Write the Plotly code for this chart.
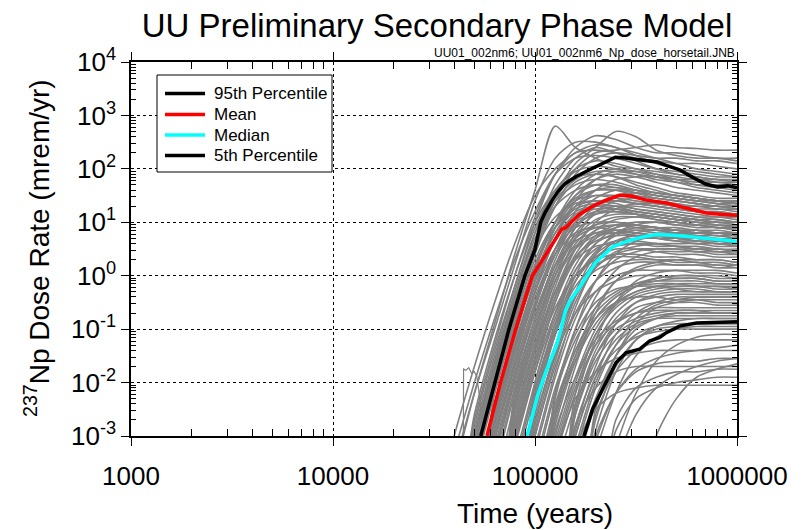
import plotly.graph_objects as go

# ---------------- data ----------------
# common time grid (years) for the individual realizations (gray horsetail)
real_time = [31600, 39800, 50100, 63100, 79400, 100000, 125900, 158500, 199500,
             251200, 316200, 398100, 501200, 631000, 794300, 1000000]

# log10 of dose rate (mrem/yr) for realizations
gray_top = [
    [-4.5, -3.6, -2.2, -0.9, 0.4, 1.6, 2.8, 2.4, 2.2, 2.05, 2.0, 1.95, 1.9, 1.85, 1.8, 1.75],
    [-4.5, -4.5, -3.3, -1.9, -0.6, 0.6, 1.5, 2.1, 2.4, 2.7, 2.6, 2.35, 2.25, 2.2, 2.2, 2.15],
    [-4.5, -4.5, -2.9, -1.5, -0.2, 1.0, 1.9, 2.4, 2.62, 2.55, 2.4, 2.3, 2.3, 2.25, 2.2, 2.2],
    [-4.5, -4.5, -3.4, -2.0, -0.7, 0.5, 1.4, 2.0, 2.3, 2.35, 2.4, 2.45, 2.4, 2.38, 2.35, 2.35],
    [-4.5, -3.5, -2.2, -1.0, 0.2, 1.4, 2.2, 2.5, 2.5, 2.4, 2.3, 2.2, 2.1, 2.0, 1.95, 1.9],
    [-4.5, -3.0, -1.7, -0.5, 0.6, 1.5, 2.0, 2.3, 2.45, 2.4, 2.25, 2.1, 2.0, 1.95, 1.9, 1.85],
    [-4.5, -4.5, -2.7, -1.3, 0.0, 1.1, 1.9, 2.3, 2.35, 2.3, 2.2, 2.15, 2.1, 2.1, 2.05, 2.0],
    [-4.5, -4.5, -3.1, -1.7, -0.4, 0.8, 1.7, 2.2, 2.4, 2.3, 2.15, 2.0, 1.9, 1.85, 1.8, 1.8],
    [-4.5, -3.3, -2.0, -0.8, 0.3, 1.2, 1.9, 2.2, 2.25, 2.2, 2.1, 2.0, 1.95, 1.9, 1.85, 1.85],
    [-4.5, -4.5, -3.5, -2.1, -0.8, 0.4, 1.3, 1.9, 2.2, 2.3, 2.25, 2.2, 2.2, 2.15, 2.15, 2.1],
]
gray_upper = [
    [-4.5, -4.5, -3.0, -1.6, -0.3, 0.8, 1.6, 2.0, 2.15, 2.1, 2.0, 1.9, 1.8, 1.7, 1.65, 1.6],
    [-4.5, -4.5, -2.8, -1.4, -0.2, 0.9, 1.6, 1.95, 2.05, 2.0, 1.9, 1.8, 1.75, 1.7, 1.7, 1.7],
    [-4.5, -4.5, -4.5, -2.6, -1.2, 0.1, 1.0, 1.6, 1.9, 2.0, 1.95, 1.85, 1.75, 1.65, 1.6, 1.55],
    [-4.5, -4.5, -3.2, -1.8, -0.5, 0.6, 1.4, 1.8, 1.95, 1.95, 1.9, 1.85, 1.8, 1.8, 1.75, 1.75],
    [-4.5, -4.5, -4.5, -3.0, -1.6, -0.3, 0.7, 1.4, 1.8, 1.95, 1.95, 1.9, 1.85, 1.8, 1.8, 1.8],
    [-4.5, -4.5, -2.6, -1.2, 0.0, 1.0, 1.6, 1.85, 1.9, 1.85, 1.75, 1.65, 1.55, 1.5, 1.45, 1.45],
    [-4.5, -4.5, -4.5, -2.8, -1.4, -0.1, 0.9, 1.5, 1.8, 1.9, 1.85, 1.75, 1.65, 1.6, 1.55, 1.5],
    [-4.5, -4.5, -3.4, -2.0, -0.7, 0.5, 1.3, 1.75, 1.9, 1.85, 1.7, 1.6, 1.5, 1.45, 1.4, 1.4],
    [-4.5, -4.5, -4.5, -3.3, -1.9, -0.6, 0.5, 1.2, 1.6, 1.8, 1.85, 1.85, 1.8, 1.75, 1.75, 1.7],
    [-4.5, -4.5, -3.0, -1.6, -0.4, 0.7, 1.4, 1.7, 1.8, 1.75, 1.65, 1.55, 1.5, 1.45, 1.4, 1.35],
]
gray_mid_high = [
    [-4.5, -4.5, -4.5, -2.5, -1.1, 0.1, 1.0, 1.5, 1.7, 1.7, 1.6, 1.5, 1.45, 1.4, 1.35, 1.3],
    [-4.5, -4.5, -4.5, -2.9, -1.5, -0.3, 0.7, 1.3, 1.6, 1.65, 1.6, 1.55, 1.5, 1.45, 1.4, 1.4],
    [-4.5, -4.5, -4.5, -3.3, -1.9, -0.6, 0.4, 1.1, 1.45, 1.6, 1.6, 1.55, 1.5, 1.45, 1.4, 1.35],
    [-4.5, -4.5, -3.5, -2.1, -0.8, 0.3, 1.0, 1.4, 1.5, 1.45, 1.35, 1.3, 1.25, 1.2, 1.2, 1.15],
    [-4.5, -4.5, -4.5, -2.7, -1.3, -0.1, 0.8, 1.3, 1.5, 1.5, 1.45, 1.4, 1.35, 1.3, 1.3, 1.25],
    [-4.5, -4.5, -4.5, -4.5, -2.4, -1.0, 0.1, 0.9, 1.3, 1.5, 1.55, 1.5, 1.45, 1.4, 1.4, 1.35],
    [-4.5, -4.5, -4.5, -3.1, -1.7, -0.5, 0.5, 1.1, 1.35, 1.4, 1.35, 1.3, 1.25, 1.2, 1.15, 1.1],
    [-4.5, -4.5, -4.5, -4.5, -2.8, -1.4, -0.2, 0.7, 1.2, 1.4, 1.45, 1.45, 1.4, 1.35, 1.3, 1.3],
    [-4.5, -4.5, -4.5, -2.4, -1.0, 0.2, 0.9, 1.25, 1.35, 1.3, 1.2, 1.15, 1.1, 1.05, 1.0, 1.0],
    [-4.5, -4.5, -4.5, -3.5, -2.1, -0.8, 0.3, 1.0, 1.35, 1.45, 1.4, 1.35, 1.3, 1.25, 1.25, 1.2],
    [-4.5, -4.5, -4.5, -4.5, -2.2, -0.9, 0.2, 0.9, 1.2, 1.3, 1.3, 1.25, 1.2, 1.15, 1.1, 1.1],
    [-4.5, -4.5, -4.5, -2.8, -1.4, -0.2, 0.7, 1.1, 1.25, 1.25, 1.2, 1.15, 1.1, 1.05, 1.05, 1.0],
    [-4.5, -4.5, -4.5, -4.5, -3.0, -1.6, -0.4, 0.5, 1.0, 1.25, 1.35, 1.35, 1.3, 1.3, 1.25, 1.25],
    [-4.5, -4.5, -4.5, -3.2, -1.8, -0.6, 0.4, 0.95, 1.15, 1.2, 1.15, 1.1, 1.05, 1.0, 0.95, 0.95],
    [-4.5, -4.5, -4.5, -4.5, -2.5, -1.1, 0.0, 0.8, 1.15, 1.25, 1.2, 1.15, 1.1, 1.05, 1.0, 1.0],
    [-4.5, -4.5, -3.2, -1.8, -0.5, 0.6, 1.3, 1.6, 1.7, 1.65, 1.55, 1.45, 1.4, 1.35, 1.3, 1.3],
    [-4.5, -4.5, -3.6, -2.2, -0.9, 0.2, 1.0, 1.45, 1.6, 1.6, 1.5, 1.45, 1.4, 1.35, 1.3, 1.25],
    [-4.5, -4.5, -4.5, -2.2, -0.9, 0.2, 0.9, 1.3, 1.4, 1.4, 1.35, 1.3, 1.25, 1.2, 1.2, 1.15],
    [-4.5, -4.5, -3.9, -2.4, -1.1, 0.0, 0.9, 1.4, 1.6, 1.6, 1.55, 1.5, 1.45, 1.4, 1.35, 1.35],
    [-4.5, -4.5, -3.0, -1.7, -0.5, 0.5, 1.1, 1.35, 1.4, 1.35, 1.25, 1.2, 1.15, 1.1, 1.05, 1.0],
    [-4.5, -4.5, -4.5, -2.4, -1.1, 0.0, 0.8, 1.2, 1.3, 1.25, 1.15, 1.05, 1.0, 0.95, 0.9, 0.9],
    [-4.5, -4.5, -4.5, -2.7, -1.4, -0.3, 0.5, 0.9, 1.0, 1.0, 0.95, 0.9, 0.85, 0.8, 0.8, 0.75],
]
gray_mid = [
    [-4.5, -4.5, -4.5, -4.5, -2.7, -1.3, -0.1, 0.6, 0.95, 1.1, 1.1, 1.05, 1.0, 0.95, 0.9, 0.9],
    [-4.5, -4.5, -4.5, -4.5, -3.2, -1.8, -0.5, 0.4, 0.85, 1.05, 1.1, 1.1, 1.05, 1.0, 1.0, 0.95],
    [-4.5, -4.5, -4.5, -3.4, -2.0, -0.8, 0.2, 0.75, 0.95, 1.0, 0.95, 0.9, 0.85, 0.8, 0.8, 0.75],
    [-4.5, -4.5, -4.5, -4.5, -4.5, -2.4, -1.0, 0.0, 0.6, 0.9, 1.0, 1.0, 0.95, 0.95, 0.9, 0.9],
    [-4.5, -4.5, -4.5, -4.5, -2.3, -1.0, 0.1, 0.7, 0.9, 0.95, 0.9, 0.85, 0.8, 0.75, 0.75, 0.7],
    [-4.5, -4.5, -4.5, -4.5, -2.9, -1.5, -0.3, 0.5, 0.85, 0.95, 0.95, 0.9, 0.9, 0.85, 0.85, 0.8],
    [-4.5, -4.5, -4.5, -4.5, -4.5, -2.8, -1.4, -0.3, 0.4, 0.8, 0.95, 1.0, 1.0, 0.95, 0.95, 0.9],
    [-4.5, -4.5, -4.5, -3.0, -1.6, -0.4, 0.4, 0.8, 0.9, 0.85, 0.8, 0.75, 0.7, 0.7, 0.65, 0.65],
    [-4.5, -4.5, -4.5, -4.5, -3.4, -2.0, -0.7, 0.2, 0.7, 0.9, 0.95, 0.9, 0.85, 0.85, 0.8, 0.8],
    [-4.5, -4.5, -4.5, -4.5, -2.5, -1.2, -0.1, 0.5, 0.75, 0.8, 0.8, 0.75, 0.7, 0.7, 0.65, 0.6],
    [-4.5, -4.5, -4.5, -4.5, -4.5, -3.2, -1.8, -0.6, 0.2, 0.6, 0.8, 0.85, 0.85, 0.85, 0.8, 0.8],
    [-4.5, -4.5, -4.5, -4.5, -3.0, -1.6, -0.4, 0.35, 0.7, 0.85, 0.85, 0.8, 0.8, 0.75, 0.7, 0.7],
    [-4.5, -4.5, -4.5, -4.5, -4.5, -2.5, -1.1, -0.1, 0.45, 0.75, 0.85, 0.85, 0.8, 0.8, 0.75, 0.75],
    [-4.5, -4.5, -4.5, -3.6, -2.2, -1.0, 0.0, 0.55, 0.8, 0.85, 0.8, 0.75, 0.7, 0.65, 0.6, 0.6],
    [-4.5, -4.5, -4.5, -4.5, -4.5, -4.5, -2.3, -1.0, -0.1, 0.4, 0.65, 0.75, 0.8, 0.8, 0.8, 0.75],
    [-4.5, -4.5, -4.5, -4.5, -2.8, -1.4, -0.3, 0.35, 0.65, 0.75, 0.75, 0.7, 0.65, 0.65, 0.6, 0.6],
    [-4.5, -4.5, -4.5, -4.5, -4.5, -2.9, -1.5, -0.4, 0.3, 0.65, 0.75, 0.75, 0.7, 0.7, 0.65, 0.65],
    [-4.5, -4.5, -4.5, -4.5, -3.6, -2.2, -0.9, 0.1, 0.6, 0.8, 0.9, 0.9, 0.85, 0.8, 0.8, 0.75],
    [-4.5, -4.5, -4.5, -2.6, -1.3, -0.1, 0.7, 1.15, 1.3, 1.3, 1.25, 1.2, 1.15, 1.1, 1.1, 1.05],
    [-4.5, -4.5, -4.5, -3.0, -1.7, -0.5, 0.5, 1.0, 1.2, 1.2, 1.15, 1.1, 1.05, 1.0, 0.95, 0.9],
    [-4.5, -4.5, -4.5, -3.8, -2.4, -1.1, 0.0, 0.7, 1.05, 1.15, 1.15, 1.1, 1.05, 1.05, 1.0, 1.0],
    [-4.5, -4.5, -4.5, -4.5, -3.1, -1.7, -0.5, 0.3, 0.75, 0.95, 1.0, 1.0, 0.95, 0.9, 0.9, 0.85],
    [-4.5, -4.5, -4.5, -3.3, -1.9, -0.7, 0.2, 0.65, 0.8, 0.8, 0.75, 0.7, 0.65, 0.6, 0.6, 0.55],
]
gray_mid_low = [
    [-4.5, -4.5, -4.5, -4.5, -4.5, -2.6, -1.3, -0.4, 0.15, 0.4, 0.5, 0.5, 0.5, 0.45, 0.45, 0.4],
    [-4.5, -4.5, -4.5, -4.5, -4.5, -3.3, -1.9, -0.8, -0.1, 0.3, 0.45, 0.5, 0.5, 0.5, 0.45, 0.45],
    [-4.5, -4.5, -4.5, -4.5, -3.1, -1.8, -0.7, 0.0, 0.35, 0.5, 0.5, 0.45, 0.4, 0.4, 0.35, 0.35],
    [-4.5, -4.5, -4.5, -4.5, -4.5, -4.5, -2.6, -1.3, -0.4, 0.1, 0.35, 0.45, 0.45, 0.45, 0.4, 0.4],
    [-4.5, -4.5, -4.5, -4.5, -4.5, -2.2, -1.0, -0.2, 0.2, 0.35, 0.35, 0.3, 0.3, 0.25, 0.25, 0.2],
    [-4.5, -4.5, -4.5, -4.5, -4.5, -3.0, -1.7, -0.7, -0.1, 0.15, 0.25, 0.25, 0.2, 0.2, 0.15, 0.15],
    [-4.5, -4.5, -4.5, -4.5, -4.5, -4.5, -3.0, -1.7, -0.7, -0.1, 0.15, 0.25, 0.3, 0.3, 0.3, 0.25],
    [-4.5, -4.5, -4.5, -4.5, -4.5, -4.5, -2.2, -1.0, -0.3, 0.0, 0.1, 0.1, 0.1, 0.05, 0.05, 0.0],
    [-4.5, -4.5, -4.5, -4.5, -4.5, -2.7, -1.5, -0.7, -0.3, -0.1, 0.0, 0.0, -0.05, -0.05, -0.1, -0.1],
    [-4.5, -4.5, -4.5, -4.5, -4.5, -4.5, -4.5, -2.4, -1.2, -0.5, -0.1, 0.05, 0.1, 0.1, 0.1, 0.05],
    [-4.5, -4.5, -4.5, -4.5, -4.5, -4.5, -2.8, -1.6, -0.8, -0.4, -0.2, -0.15, -0.15, -0.2, -0.2, -0.25],
    [-4.5, -4.5, -4.5, -4.5, -4.5, -3.5, -2.1, -1.1, -0.5, -0.25, -0.2, -0.2, -0.25, -0.3, -0.3, -0.3],
    [-4.5, -4.5, -4.5, -4.5, -4.5, -4.5, -4.5, -2.9, -1.7, -0.9, -0.5, -0.35, -0.3, -0.3, -0.3, -0.3],
    [-4.5, -4.5, -4.5, -4.5, -4.5, -4.5, -2.5, -1.4, -0.8, -0.5, -0.4, -0.4, -0.45, -0.45, -0.5, -0.5],
    [-4.5, -4.5, -4.5, -4.5, -4.5, -4.5, -4.5, -2.6, -1.5, -0.9, -0.6, -0.5, -0.5, -0.5, -0.55, -0.55],
    [-4.5, -4.5, -4.5, -4.5, -4.5, -4.5, -3.3, -2.1, -1.3, -0.9, -0.7, -0.65, -0.65, -0.65, -0.7, -0.7],
    [-4.5, -4.5, -4.5, -4.5, -4.5, -4.5, -4.5, -4.5, -2.5, -1.5, -1.0, -0.8, -0.7, -0.7, -0.7, -0.7],
    [-4.5, -4.5, -4.5, -4.5, -4.5, -4.5, -4.5, -3.2, -2.0, -1.3, -0.95, -0.8, -0.75, -0.75, -0.75, -0.75],
    [-4.5, -4.5, -4.5, -4.5, -4.5, -3.8, -2.4, -1.4, -0.7, -0.35, -0.15, -0.05, 0.0, 0.0, 0.0, -0.05],
    [-4.5, -4.5, -4.5, -4.5, -4.5, -4.5, -4.5, -2.2, -1.1, -0.55, -0.3, -0.2, -0.15, -0.15, -0.15, -0.15],
    [-4.5, -4.5, -4.5, -4.5, -2.6, -1.3, -0.3, 0.3, 0.55, 0.6, 0.6, 0.55, 0.55, 0.5, 0.5, 0.45],
    [-4.5, -4.5, -4.5, -4.5, -3.8, -2.4, -1.1, -0.1, 0.4, 0.65, 0.7, 0.7, 0.7, 0.65, 0.65, 0.6],
    [-4.5, -4.5, -4.5, -4.5, -4.5, -3.0, -1.6, -0.5, 0.15, 0.45, 0.55, 0.6, 0.6, 0.6, 0.55, 0.55],
    [-4.5, -4.5, -4.5, -4.5, -2.9, -1.6, -0.6, 0.0, 0.3, 0.4, 0.4, 0.35, 0.35, 0.3, 0.3, 0.25],
    [-4.5, -4.5, -4.5, -4.5, -4.5, -2.3, -1.1, -0.3, 0.1, 0.25, 0.3, 0.3, 0.25, 0.25, 0.2, 0.2],
    [-4.5, -4.5, -4.5, -4.5, -4.5, -4.5, -2.7, -1.5, -0.6, -0.1, 0.1, 0.2, 0.2, 0.2, 0.2, 0.15],
    [-4.5, -4.5, -4.5, -4.5, -4.5, -3.6, -2.2, -1.2, -0.6, -0.3, -0.15, -0.1, -0.1, -0.1, -0.15, -0.15],
    [-4.5, -4.5, -4.5, -4.5, -4.5, -4.5, -3.2, -2.0, -1.1, -0.6, -0.35, -0.25, -0.2, -0.2, -0.2, -0.2],
    [-4.5, -4.5, -4.5, -4.5, -4.5, -4.5, -4.5, -3.0, -1.9, -1.1, -0.7, -0.5, -0.4, -0.4, -0.4, -0.4],
    [-4.5, -4.5, -4.5, -4.5, -4.5, -4.5, -2.9, -1.9, -1.2, -0.85, -0.7, -0.6, -0.6, -0.6, -0.6, -0.6],
    [-4.5, -4.5, -4.5, -4.5, -4.5, -4.5, -4.5, -4.5, -2.9, -1.8, -1.2, -0.95, -0.85, -0.8, -0.8, -0.8],
    [-4.5, -4.5, -4.5, -4.5, -3.5, -2.1, -0.9, -0.1, 0.35, 0.55, 0.6, 0.6, 0.55, 0.55, 0.5, 0.5],
    [-4.5, -4.5, -4.5, -4.5, -4.5, -2.0, -0.8, 0.1, 0.5, 0.65, 0.65, 0.6, 0.55, 0.5, 0.5, 0.45],
    [-4.5, -4.5, -4.5, -4.5, -4.5, -4.5, -4.5, -2.6, -1.6, -1.1, -0.85, -0.75, -0.7, -0.7, -0.7, -0.7],
    [-4.5, -4.5, -4.5, -4.5, -4.5, -4.5, -3.6, -2.4, -1.5, -1.0, -0.8, -0.7, -0.65, -0.65, -0.65, -0.65],
    [-4.5, -4.5, -4.5, -4.5, -4.5, -4.5, -4.5, -3.4, -2.3, -1.5, -1.1, -0.95, -0.9, -0.9, -0.9, -0.9],
    [-4.5, -4.5, -4.5, -4.5, -4.5, -4.5, -3.4, -2.2, -1.3, -0.7, -0.4, -0.3, -0.25, -0.25, -0.3, -0.3],
    [-4.5, -4.5, -4.5, -4.5, -4.5, -4.5, -4.5, -3.6, -2.4, -1.5, -0.9, -0.6, -0.5, -0.45, -0.45, -0.45],
    [-4.5, -4.5, -4.5, -4.5, -4.5, -4.5, -2.6, -1.6, -0.9, -0.5, -0.3, -0.2, -0.2, -0.2, -0.25, -0.25],
    [-4.5, -4.5, -4.5, -4.5, -4.5, -4.5, -4.5, -2.8, -1.8, -1.2, -0.9, -0.8, -0.8, -0.8, -0.8, -0.8],
    [-4.5, -4.5, -4.5, -4.5, -4.5, -4.5, -4.5, -3.3, -2.1, -1.3, -0.8, -0.55, -0.45, -0.4, -0.4, -0.4],
    [-4.5, -4.5, -4.5, -4.5, -4.5, -4.5, -3.1, -1.9, -1.0, -0.5, -0.2, -0.05, 0.0, 0.0, -0.05, -0.05],
    [-4.5, -4.5, -4.5, -4.5, -4.5, -4.5, -4.5, -2.5, -1.4, -0.8, -0.5, -0.4, -0.35, -0.35, -0.35, -0.35],
    [-4.5, -4.5, -4.5, -4.5, -4.5, -3.9, -2.5, -1.5, -0.8, -0.4, -0.2, -0.1, -0.05, -0.05, -0.1, -0.1],
]
gray_low = [
    [-4.5, -4.5, -4.5, -4.5, -4.5, -4.5, -4.5, -3.0, -1.9, -1.4, -1.15, -1.05, -1.0, -1.0, -1.0, -1.0],
    [-4.5, -4.5, -4.5, -4.5, -4.5, -4.5, -4.5, -4.5, -2.6, -1.8, -1.4, -1.25, -1.2, -1.2, -1.2, -1.2],
    [-4.5, -4.5, -4.5, -4.5, -4.5, -4.5, -3.3, -2.3, -1.8, -1.55, -1.45, -1.4, -1.4, -1.4, -1.4, -1.4],
    [-4.5, -4.5, -4.5, -4.5, -4.5, -4.5, -4.5, -4.5, -3.0, -2.2, -1.8, -1.65, -1.6, -1.6, -1.55, -1.55],
    [-4.5, -4.5, -4.5, -4.5, -4.5, -4.5, -4.5, -2.8, -2.1, -1.8, -1.7, -1.7, -1.7, -1.7, -1.7, -1.7],
    [-4.5, -4.5, -4.5, -4.5, -4.5, -4.5, -4.5, -4.5, -4.5, -2.7, -2.1, -1.9, -1.8, -1.8, -1.75, -1.75],
    [-4.5, -4.5, -4.5, -4.5, -4.5, -4.5, -4.5, -4.5, -4.5, -4.5, -4.5, -3.0, -2.3, -1.9, -1.75, -1.65],
    [-4.5, -4.5, -4.5, -4.5, -4.5, -4.5, -4.5, -3.2, -2.5, -2.2, -2.1, -2.05, -2.05, -2.05, -2.05, -2.05],
    [-4.5, -4.5, -4.5, -4.5, -4.5, -4.5, -4.5, -4.5, -3.1, -2.2, -1.75, -1.55, -1.45, -1.4, -1.35, -1.3],
    [-4.5, -4.5, -4.5, -4.5, -4.5, -4.5, -4.5, -4.5, -4.5, -2.9, -2.3, -2.1, -2.0, -1.95, -1.9, -1.9],
    [-4.5, -4.5, -4.5, -4.5, -4.5, -4.5, -4.5, -4.5, -2.7, -1.7, -1.2, -1.0, -0.95, -0.9, -0.9, -0.9],
    [-4.5, -4.5, -4.5, -4.5, -4.5, -4.5, -4.5, -4.5, -3.3, -2.2, -1.5, -1.15, -1.0, -0.95, -0.95, -0.95],
    [-4.5, -4.5, -4.5, -4.5, -4.5, -4.5, -4.5, -4.5, -4.5, -3.2, -2.2, -1.6, -1.3, -1.15, -1.1, -1.1],
    [-4.5, -4.5, -4.5, -4.5, -4.5, -4.5, -4.5, -4.5, -4.5, -3.5, -2.6, -2.1, -1.85, -1.7, -1.6, -1.55],
]
# one odd early realization with a short plateau near 0.015 mrem/yr
odd_time = [44000, 44300, 45500, 47000, 48500, 50000, 51500, 53000, 55500]
odd_dose = [1e-5, 0.018, 0.017, 0.019, 0.015, 0.016, 0.013, 0.006, 0.001]

# statistics curves
p95_time = [53900, 63200, 74300, 89100, 95500, 100000, 106700, 112000, 121700, 130000, 142000,
            160000, 180000, 200000, 225000, 250000, 280000, 304000, 350000, 400000, 450000,
            520000, 600000, 700000, 800000, 900000, 1000000]
p95_dose = [0.001, 0.01, 0.1, 1.0, 2.0, 3.1, 10, 15, 26, 38, 54,
            72, 90, 110, 140, 165, 160, 155, 145, 135, 115,
            96, 70, 52, 46, 48, 44]
mean_time = [57800, 67500, 80200, 97000, 110000, 121000, 131000, 136000, 142000, 150000,
             166000, 193000, 225000, 262000, 300000, 355000, 450000, 520000, 706000, 850000,
             1000000]
mean_dose = [0.001, 0.01, 0.1, 1.0, 2.1, 3.6, 6.0, 7.5, 7.9, 9.8,
             14, 20, 26, 32, 31, 26, 23, 19.8, 14.9, 14, 13.5]
median_time = [91400, 102800, 113000, 129000, 142000, 150000, 172000, 200000, 243000, 294000,
               355000, 400000, 480000, 560000, 700000, 850000, 1000000]
median_dose = [0.001, 0.0056, 0.0155, 0.056, 0.23, 0.35, 0.74, 1.8, 3.5, 4.6,
               5.5, 5.9, 5.7, 5.5, 5.0, 4.6, 4.4]
p05_time = [175000, 193000, 224700, 252000, 282000, 329000, 369000, 414000, 447000, 520000,
            631000, 800000, 1000000]
p05_dose = [0.001, 0.0032, 0.01, 0.0237, 0.036, 0.042, 0.06, 0.07, 0.086, 0.114,
            0.13, 0.135, 0.137]

legend_names = ["95th Percentile", "Mean", "Median", "5th Percentile"]
legend_colors = ["black", "red", "cyan", "black"]

x_tick_vals = [1000, 10000, 100000, 1000000]
x_tick_text = ["1000", "10000", "100000", "1000000"]
y_tick_vals = [1e-3, 1e-2, 1e-1, 1e0, 1e1, 1e2, 1e3, 1e4]
y_tick_text = ["10<sup>-3</sup>", "10<sup>-2</sup>", "10<sup>-1</sup>", "10<sup>0</sup>",
               "10<sup>1</sup>", "10<sup>2</sup>", "10<sup>3</sup>", "10<sup>4</sup>"]

# ---------------- figure ----------------
FONT = "Liberation Sans, Arial, Helvetica, sans-serif"
GRAY = "rgb(128,128,128)"
W, H = 806, 530
L, R, T, B = 131, 69, 62, 94
PW, PH = W - L - R, H - T - B


def px(xp):
    return (xp - L) / PW


def py(yp):
    return (H - B - yp) / PH


fig = go.Figure()

realizations = gray_top + gray_upper + gray_mid_high + gray_mid + gray_mid_low + gray_low
for row in realizations:
    fig.add_trace(go.Scatter(x=real_time, y=[10 ** v for v in row], mode="lines",
                             line=dict(color=GRAY, width=1.6, shape="spline", smoothing=0.8),
                             showlegend=False, hoverinfo="skip"))
fig.add_trace(go.Scatter(x=odd_time, y=odd_dose, mode="lines",
                         line=dict(color=GRAY, width=1.2), showlegend=False, hoverinfo="skip"))

stats = [(p95_time, p95_dose), (mean_time, mean_dose), (median_time, median_dose),
         (p05_time, p05_dose)]
for (tt, dd), nm, col in zip(stats, legend_names, legend_colors):
    fig.add_trace(go.Scatter(x=tt, y=dd, mode="lines", name=nm,
                             line=dict(color=col, width=3.5), showlegend=False))

minor_x = [m * 10 ** e for e in range(3, 6) for m in range(2, 10)]
minor_y = [m * 10.0 ** e for e in range(-3, 4) for m in range(2, 10)]

fig.update_layout(
    width=W, height=H,
    margin=dict(l=L, r=R, t=T, b=B),
    paper_bgcolor="white", plot_bgcolor="white",
    font=dict(family=FONT, color="black"),
    title=dict(text="UU Preliminary Secondary Phase Model", x=437 / W, xanchor="center",
               y=1 - 25 / H, yanchor="middle", yref="container",
               font=dict(size=33, family=FONT, color="black")),
    showlegend=False,
)
fig.update_xaxes(
    type="log", range=[3, 6], tickvals=x_tick_vals, ticktext=x_tick_text,
    tickfont=dict(size=26), ticks="outside", ticklen=8, tickcolor="black",
    ticklabelstandoff=8,
    showline=True, linecolor="black", linewidth=1.5, mirror="allticks",
    showgrid=True, gridcolor="black", griddash="dot", gridwidth=1,
    minor=dict(tickvals=minor_x, ticks="inside", ticklen=7, tickcolor="black", showgrid=False),
    zeroline=False,
)
fig.update_yaxes(
    type="log", range=[-3, 4], tickvals=y_tick_vals, ticktext=y_tick_text,
    tickfont=dict(size=26), ticks="outside", ticklen=8, tickcolor="black",
    showline=True, linecolor="black", linewidth=1.5, mirror="allticks",
    showgrid=True, gridcolor="black", griddash="dot", gridwidth=1,
    minor=dict(tickvals=minor_y, ticks="inside", ticklen=5, tickcolor="black", showgrid=False),
    zeroline=False,
)

# legend box drawn in paper coordinates
fig.add_shape(type="rect", xref="paper", yref="paper", x0=px(157), x1=px(332),
              y0=py(172), y1=py(75), fillcolor="white", line=dict(color="black", width=1),
              layer="above")
row_y = [93.5, 114.5, 135, 155.5]
for nm, col, ry in zip(legend_names, legend_colors, row_y):
    fig.add_shape(type="line", xref="paper", yref="paper", x0=px(165), x1=px(205),
                  y0=py(ry), y1=py(ry), line=dict(color=col, width=3.5), layer="above")
    fig.add_annotation(text=nm, xref="paper", yref="paper", x=px(212), y=py(ry),
                       xanchor="left", yanchor="middle", showarrow=False,
                       font=dict(size=17, family=FONT))

fig.add_annotation(text="UU01_002nm6; UU01_002nm6_Np_dose_horsetail.JNB",
                   xref="paper", yref="paper", x=1.0, y=py(53), xanchor="right",
                   yanchor="middle", showarrow=False, font=dict(size=12, family=FONT))
fig.add_annotation(text="<sup>237</sup>Np Dose Rate (mrem/yr)", textangle=-90,
                   xref="paper", yref="paper", x=px(37), y=py(248),
                   xanchor="center", yanchor="middle", showarrow=False,
                   font=dict(size=28, family=FONT))
fig.add_annotation(text="Time (years)", xref="paper", yref="paper",
                   x=px(535), y=py(513), xanchor="center", yanchor="middle",
                   showarrow=False, font=dict(size=28, family=FONT))

fig.write_html("out.html")
